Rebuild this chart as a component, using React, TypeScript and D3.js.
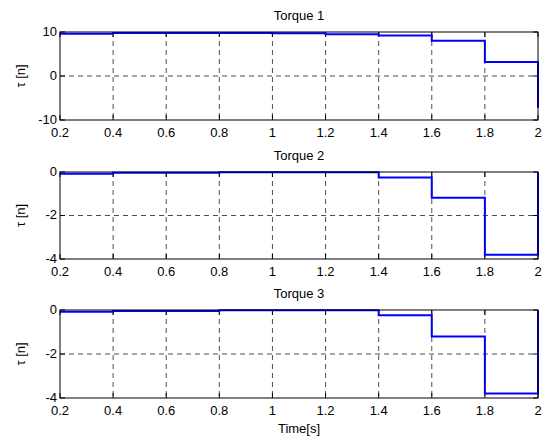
import * as d3 from 'd3'

const W = 545
const H = 439
const X_LEFT = 60
const X_RIGHT = 538

// step start times, value holds until the next time
const TIMES = [0.2, 0.4, 0.6, 0.8, 1.0, 1.2, 1.4, 1.6, 1.8, 2.0]
const X_TICKS = [0.2, 0.4, 0.6, 0.8, 1, 1.2, 1.4, 1.6, 1.8, 2]

const TORQUE1 = [9.6, 9.8, 9.8, 9.8, 9.7, 9.5, 9.2, 8.0, 3.2, -7.2]
const TORQUE2 = [-0.08, -0.04, -0.04, -0.01, -0.01, -0.01, -0.25, -1.18, -3.8, 0]
const TORQUE3 = [-0.08, -0.04, -0.04, -0.01, -0.01, -0.01, -0.24, -1.21, -3.8, 0]

const PANELS = [
  { title: 'Torque 1', values: TORQUE1, domain: [-10, 10], ticks: [-10, 0, 10], top: 32, bottom: 120 },
  { title: 'Torque 2', values: TORQUE2, domain: [-4, 0], ticks: [-4, -2, 0], top: 172, bottom: 259 },
  { title: 'Torque 3', values: TORQUE3, domain: [-4, 0], ticks: [-4, -2, 0], top: 310, bottom: 398 },
]

const FONT = 'Liberation Sans, Arial, Helvetica, sans-serif'
const FS = 13

function Panel({ p }: { p: typeof PANELS[number] }) {
  const x = d3.scaleLinear().domain([0.2, 2]).range([X_LEFT, X_RIGHT])
  const y = d3.scaleLinear().domain(p.domain).range([p.bottom, p.top])
  const pts = TIMES.map((t, i) => [t, p.values[i]] as [number, number])
  const line = d3.line<[number, number]>()
    .x(d => x(d[0])).y(d => y(d[1]))
    .curve(d3.curveStepAfter)
  const tickLen = 5
  return (
    <g>
      {/* grid */}
      {X_TICKS.slice(1, -1).map(t => (
        <line key={'gx' + t} x1={x(t)} x2={x(t)} y1={p.top} y2={p.bottom}
          stroke="#222" strokeWidth={0.8} strokeDasharray="5,4" />
      ))}
      {p.ticks.slice(1, -1).map(t => (
        <line key={'gy' + t} x1={X_LEFT} x2={X_RIGHT} y1={y(t)} y2={y(t)}
          stroke="#222" strokeWidth={0.8} strokeDasharray="5,4" />
      ))}
      {/* ticks */}
      {X_TICKS.map(t => (
        <g key={'tx' + t}>
          <line x1={x(t)} x2={x(t)} y1={p.bottom} y2={p.bottom - tickLen} stroke="#000" />
          <line x1={x(t)} x2={x(t)} y1={p.top} y2={p.top + tickLen} stroke="#000" />
          <text x={x(t)} y={p.bottom + 17} textAnchor="middle" fontSize={FS} fontFamily={FONT}>{t}</text>
        </g>
      ))}
      {p.ticks.map(t => (
        <g key={'ty' + t}>
          <line x1={X_LEFT} x2={X_LEFT + tickLen} y1={y(t)} y2={y(t)} stroke="#000" />
          <line x1={X_RIGHT} x2={X_RIGHT - tickLen} y1={y(t)} y2={y(t)} stroke="#000" />
          <text x={X_LEFT - 3} y={y(t) + 3.5} textAnchor="end" fontSize={FS} fontFamily={FONT}>{t}</text>
        </g>
      ))}
      {/* data */}
      <path d={line(pts) ?? ''} fill="none" stroke="#0000ff" strokeWidth={2} />
      {/* box */}
      <rect x={X_LEFT} y={p.top} width={X_RIGHT - X_LEFT} height={p.bottom - p.top}
        fill="none" stroke="#000" strokeWidth={1} />
      <text x={(X_LEFT + X_RIGHT) / 2} y={p.top - 12} textAnchor="middle" fontSize={FS} fontFamily={FONT}>{p.title}</text>
      <text transform={`translate(25,${(p.top + p.bottom) / 2}) rotate(-90)`} textAnchor="middle"
        fontSize={FS} fontFamily={FONT}>τ [n]</text>
    </g>
  )
}

export default function App() {
  return (
    <svg width={W} height={H} style={{ position: 'absolute', left: 0, top: 0, background: '#fff' }}>
      <rect width={W} height={H} fill="#fff" />
      {PANELS.map(p => <Panel key={p.title} p={p} />)}
      <text x={(X_LEFT + X_RIGHT) / 2} y={433} textAnchor="middle" fontSize={FS} fontFamily={FONT}>Time[s]</text>
    </svg>
  )
}
